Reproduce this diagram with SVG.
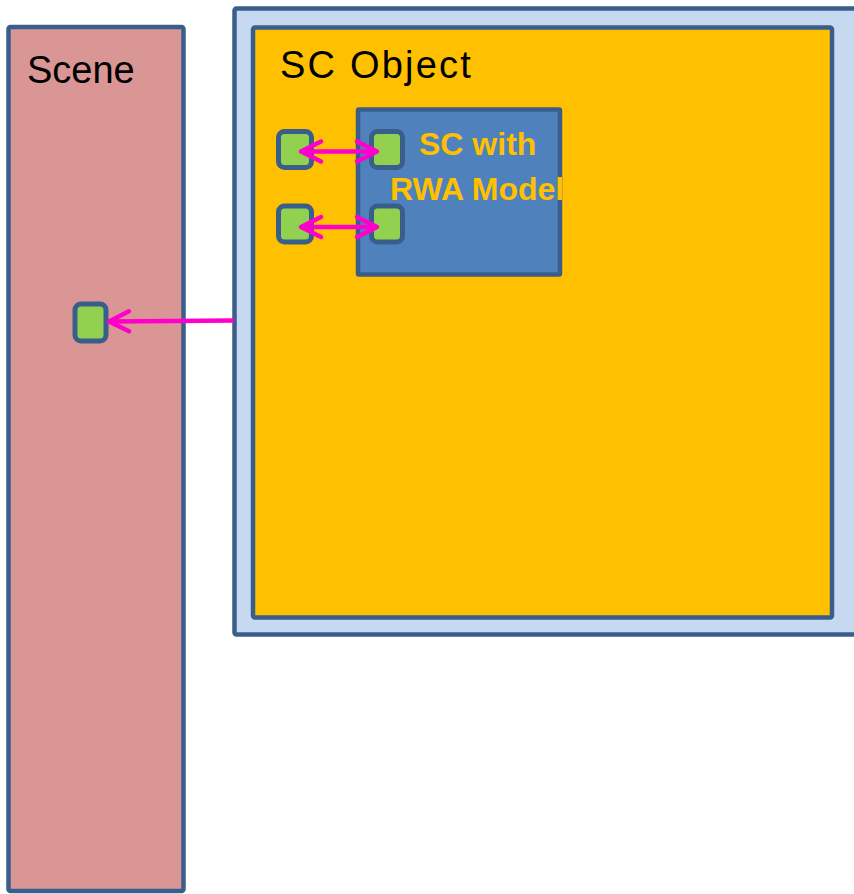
<svg xmlns="http://www.w3.org/2000/svg" width="854" height="894" viewBox="0 0 854 894">
<style>
.box{stroke:#3A5E8C;stroke-width:4.5}
.port{fill:#92D050;stroke:#3A5E8C;stroke-width:5}
.lbl{font-family:"Liberation Sans",Arial,sans-serif;fill:#000;font-size:38px}
.blbl{font-family:"Liberation Sans",Arial,sans-serif;font-weight:bold;fill:#FFC000;font-size:32px}
.con{stroke:#FF00CC;stroke-width:4.5;fill:none}
</style>
<defs>
<marker id="ah" markerUnits="userSpaceOnUse" markerWidth="30" markerHeight="30" viewBox="-26 -15 30 30" refX="0" refY="0" orient="auto-start-reverse">
<path d="M-20,-10 L0,0 L-20,10" fill="none" stroke="#FF00CC" stroke-width="4.5" stroke-linecap="round" stroke-linejoin="round"/>
</marker>
<clipPath id="innerClip"><rect x="358" y="109" width="204" height="166"/></clipPath>
</defs>
<g id="scene">
<rect class="box" x="8.5" y="27" width="175" height="864" rx="2" fill="#D99694"/>
<text class="lbl" x="27" y="83">Scene</text>
<rect id="scene-port" class="port" x="75" y="304" width="31" height="37" rx="6"/>
</g>
<g id="sc-outer">
<rect class="box" x="234.5" y="8.5" width="640" height="626" rx="2" fill="#C6D9F1"/>
</g>
<g id="sc-object">
<rect class="box" x="253" y="27.5" width="579" height="590" rx="2" fill="#FFC000"/>
<text class="lbl" x="280" y="78" letter-spacing="2.2">SC Object</text>
<rect id="obj-port1" class="port" x="278.5" y="131.5" width="33" height="36" rx="6"/>
<rect id="obj-port2" class="port" x="278.5" y="206" width="33" height="36" rx="6"/>
</g>
<g id="rwa-model">
<rect class="box" x="358" y="109.5" width="202" height="165" rx="1" fill="#4F81BD"/>
<g clip-path="url(#innerClip)">
<text class="blbl" x="419" y="155">SC with</text>
<text class="blbl" x="390" y="200">RWA Model</text>
</g>
<rect id="rwa-port1" class="port" x="371.5" y="131.5" width="31" height="36" rx="6"/>
<rect id="rwa-port2" class="port" x="371.5" y="206" width="31" height="36" rx="6"/>
</g>
<g id="connectors">
<line class="con" x1="301" y1="151.5" x2="377" y2="151.5" marker-start="url(#ah)" marker-end="url(#ah)"/>
<line class="con" x1="301" y1="227" x2="377" y2="227" marker-start="url(#ah)" marker-end="url(#ah)"/>
<line class="con" x1="234" y1="320.5" x2="109" y2="321.5" marker-end="url(#ah)"/>
</g>
</svg>
